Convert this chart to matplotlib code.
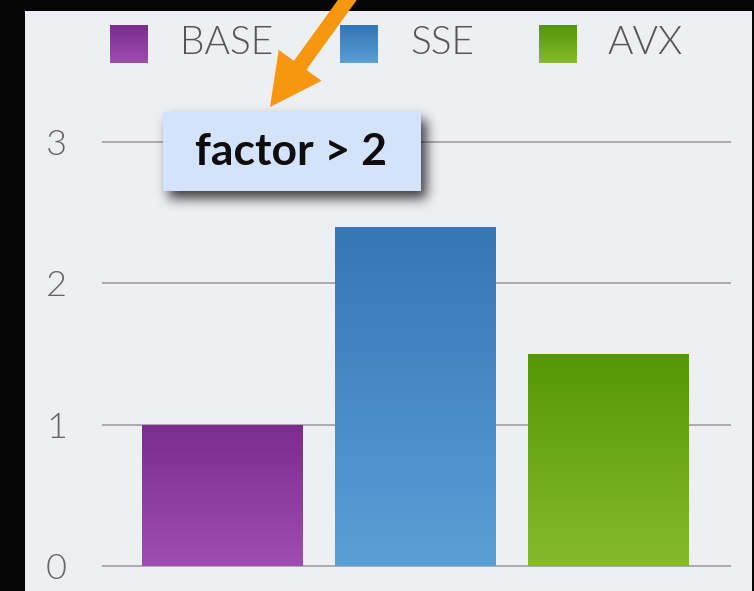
"""Speedup of SIMD variants over the scalar baseline, slide-style bar chart."""
import math
import numpy as np
import matplotlib
matplotlib.use("Agg")
import matplotlib.pyplot as plt
from matplotlib.patches import Rectangle, FancyArrowPatch
from matplotlib.colors import to_rgb

# data
variants = ["BASE", "SSE", "AVX"]
speedup = [1.0, 2.4, 1.5]
yticks = [0, 1, 2, 3]
note = "factor > 2"

# gradient colours per bar (top, bottom)
GRAD = {"BASE": ("#7a2d8e", "#9e4db1"),
        "SSE": ("#3576b6", "#5a9fd6"),
        "AVX": ("#549707", "#86bb2c")}
PANEL = "#eeeff2"; GRID = "#ababab"; TEXT = "#555555"
ORANGE = "#f7960f"; NOTE_BG = "#d4e2fa"

W, H = 754, 591
fig = plt.figure(figsize=(W / 100, H / 100), dpi=100)
fig.patch.set_facecolor("#050505")

# background layer in pixel coords: light slide panel
bg = fig.add_axes([0, 0, 1, 1], zorder=0)
bg.set_xlim(0, W); bg.set_ylim(H, 0); bg.axis("off")
bg.add_patch(Rectangle((25, 11), 727, H, fc=PANEL, ec="none"))


def gradient(top, bottom, n=256):
    t = np.linspace(0, 1, n)[:, None, None]
    return (1 - t) * np.array(to_rgb(top)) + t * np.array(to_rgb(bottom))


# chart
ax = fig.add_axes([103 / W, (H - 566) / H, 627 / W, (566 - 142) / H], zorder=1)
ax.patch.set_alpha(0)
x = np.arange(len(variants))
bars = ax.bar(x, speedup, width=0.834, color=[GRAD[v][0] for v in variants], zorder=3)
for b, v in zip(bars, variants):
    x0, h = b.get_x(), b.get_height()
    im = ax.imshow(gradient(*GRAD[v]), extent=(x0, x0 + b.get_width(), 0, h),
                   aspect="auto", origin="upper", zorder=3.5)
    im.set_clip_path(b)
ax.set_xlim(-0.62, 2.63)
ax.set_ylim(0, 3)
ax.set_yticks(yticks)
ax.set_yticklabels([str(t) for t in yticks], fontsize=26, color="#666666",
                   family="Lato", fontweight=300)
ax.tick_params(axis="y", length=0, pad=26)
ax.set_xticks([])
for t in yticks:
    ax.axhline(t, color=GRID, lw=1.4, zorder=1, clip_on=False)
for s in ax.spines.values():
    s.set_visible(False)

# foreground layer: legend, callout, arrow
fg = fig.add_axes([0, 0, 1, 1], zorder=4)
fg.set_xlim(0, W); fg.set_ylim(H, 0); fg.axis("off")

sq_x = [110, 340, 539]
lab_x = [180, 410, 608]
for v, sx, lx in zip(variants, sq_x, lab_x):
    fg.imshow(gradient(*GRAD[v]), extent=(sx, sx + 38, 63, 25), aspect="auto", origin="upper")
    fg.text(lx, 43, v, fontsize=28, color=TEXT, family="Lato", fontweight=300,
            ha="left", va="center")

# soft drop shadow under the callout
bx0, by0, bw, bh = 163, 112, 258, 79
sx_, sy_ = np.meshgrid(np.arange(130, 460), np.arange(90, 230))
erf = np.vectorize(math.erf)
sig = 6.0 * math.sqrt(2)
ox, oy = 5, 7
fx = 0.5 * (erf((sx_ - (bx0 + ox)) / sig) - erf((sx_ - (bx0 + bw + ox)) / sig))
fy = 0.5 * (erf((sy_ - (by0 + oy)) / sig) - erf((sy_ - (by0 + bh + oy)) / sig))
shadow = np.zeros(sx_.shape + (4,))
shadow[..., 3] = 0.75 * fx * fy
fg.imshow(shadow, extent=(130, 460, 230, 90), aspect="auto", origin="upper")
fg.add_patch(Rectangle((bx0, by0), bw, bh, fc=NOTE_BG, ec="none"))
fg.text(bx0 + bw / 2 - 1, 152, note, fontsize=32, fontweight="bold", family="Lato",
        color="#0d0d0d", ha="center", va="center")

fg.add_patch(FancyArrowPatch((356, -12), (270, 107), mutation_scale=1,
             arrowstyle="simple,head_length=37,head_width=38,tail_width=11",
             fc=ORANGE, ec="none", shrinkA=0, shrinkB=0))
fg.set_xlim(0, W); fg.set_ylim(H, 0)

fig.savefig("out.png", dpi=100, facecolor=fig.get_facecolor())
